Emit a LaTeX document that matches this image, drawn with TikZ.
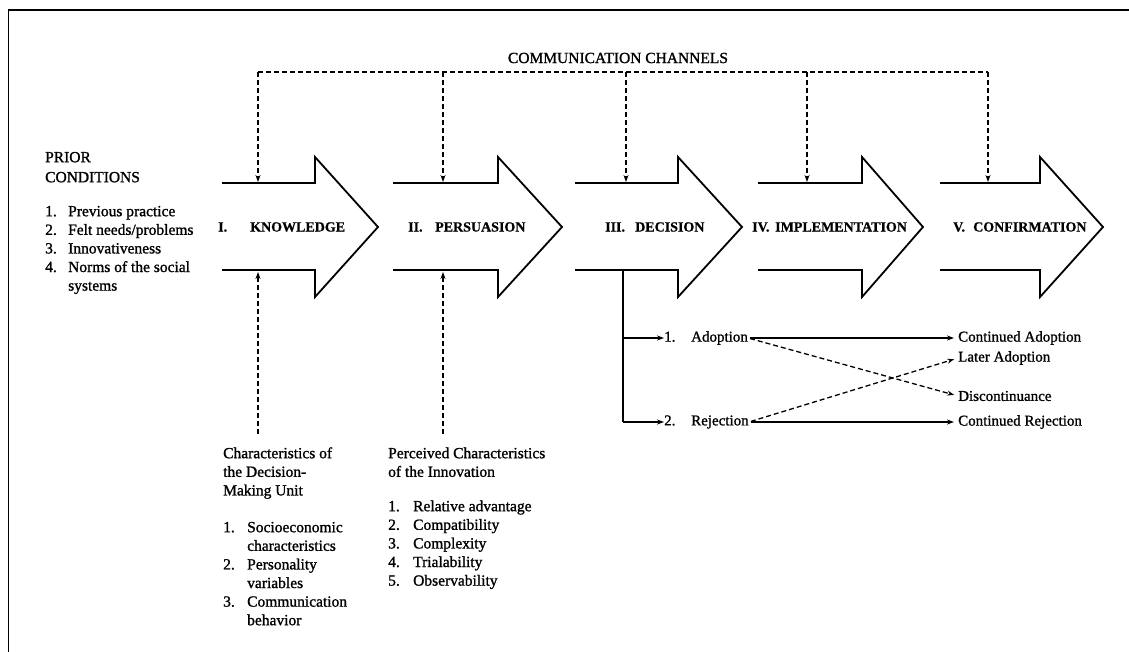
\documentclass[tikz,border=0pt]{standalone}
\usepackage{fontspec}
\setmainfont{Liberation Serif}
\newfontfamily\scanfont{Liberation Serif}[FakeBold=1.2]
\newfontfamily\scanbold{Liberation Serif Bold}[FakeBold=0.6]
\usetikzlibrary{arrows.meta}
\begin{document}
\begin{tikzpicture}[x=1pt,y=-1pt,
  phase/.style={line width=1.8pt, line join=miter},
  chan/.style={line width=1.3pt, dash pattern=on 5pt off 3pt},
  solidline/.style={line width=1.3pt},
  tipped/.style={-{Stealth[length=7pt,width=5pt]}},
  txt/.style={inner sep=0pt, font=\scanfont\fontsize{15.5}{18.6}\selectfont},
  lbl/.style={inner sep=0pt, anchor=west, font=\scanbold\fontsize{14}{17}\selectfont},
  outcome/.style={inner sep=0pt, anchor=west, font=\scanfont\fontsize{15}{18}\selectfont},
]
\useasboundingbox (0,0) rectangle (1129,652);
\draw[line width=1.5pt] (1129,10) -- (8.5,10) -- (8.5,652);

% phase arrows
\foreach \l/\n/\t in {222/315/378, 393/498/562, 575/678/742, 758/862/923, 940/1040/1103} {
  \draw[phase] (\l,183) -- (\n,183) -- (\n,157) -- (\t,227) -- (\n,297) -- (\n,270) -- (\l,270);
}
\node[lbl] (know) at (218,227) {\makebox[32pt][l]{I.}KNOWLEDGE};
\node[lbl] (pers) at (408,227) {\makebox[27pt][l]{II.}PERSUASION};
\node[lbl] (deci) at (605,227) {\makebox[30pt][l]{III.}DECISION};
\node[lbl] (impl) at (752,227) {\makebox[23pt][l]{IV.}IMPLEMENTATION};
\node[lbl] (conf) at (953,227) {\makebox[20pt][l]{V.}CONFIRMATION};

% communication channels
\node[txt] (cch) at (618,58) {COMMUNICATION CHANNELS};
\coordinate (c1) at (258,72);
\coordinate (c2) at (443,72);
\coordinate (c3) at (626,72);
\coordinate (c4) at (807,72);
\coordinate (c5) at (988,72);
\coordinate (t1) at (258,182);
\coordinate (t2) at (443,182);
\coordinate (t3) at (626,182);
\coordinate (t4) at (807,182);
\coordinate (t5) at (988,182);
\draw[chan] (c1) -- (c5);
\foreach \i in {1,...,5} { \draw[chan,tipped] (c\i) -- (t\i); }

% prior conditions
\node[txt, anchor=north west] (prior) at (45,149) {\begin{tabular}{@{}l@{}}PRIOR\\[1.4pt] CONDITIONS\end{tabular}};
\node[txt, anchor=north west] (priorlist) at (45,203) {\begin{tabular}{@{}p{23pt}@{}l@{}}
1. & Previous practice\\
2. & Felt needs/problems\\
3. & Innovativeness\\
4. & Norms of the social\\
   & systems
\end{tabular}};

% bottom influences
\coordinate (u1) at (258,434);
\coordinate (u2) at (443,434);
\coordinate (v1) at (258,272);
\coordinate (v2) at (443,272);
\draw[chan,tipped] (u1) -- (v1);
\draw[chan,tipped] (u2) -- (v2);

\node[txt, anchor=north west] (dmu) at (223,445) {\begin{tabular}{@{}l@{}}Characteristics of\\ the Decision-\\ Making Unit\end{tabular}};
\node[txt, anchor=north west] (dmulist) at (223,519) {\begin{tabular}{@{}p{24pt}@{}l@{}}
1. & Socioeconomic\\
   & characteristics\\
2. & Personality\\
   & variables\\
3. & Communication\\
   & behavior
\end{tabular}};

\node[txt, anchor=north west] (pci) at (388,445) {\begin{tabular}{@{}l@{}}Perceived Characteristics\\ of the Innovation\end{tabular}};
\node[txt, anchor=north west] (pcilist) at (388,498) {\begin{tabular}{@{}p{25pt}@{}l@{}}
1. & Relative advantage\\
2. & Compatibility\\
3. & Complexity\\
4. & Trialability\\
5. & Observability
\end{tabular}};

% decision outcomes
\node[outcome] (adopt) at (664,338) {\makebox[27pt][l]{1.}Adoption};
\node[outcome] (reject) at (664,422) {\makebox[27pt][l]{2.}Rejection};
\node[outcome] (cadopt) at (958,338) {Continued Adoption};
\node[outcome] (later) at (958,358) {Later Adoption};
\node[outcome] (disc) at (958,396) {Discontinuance};
\node[outcome] (crej) at (958,422) {Continued Rejection};

\coordinate (dtop) at (623,271);
\coordinate (dmid) at (623,338);
\coordinate (dbot) at (623,422);
\draw[solidline] (dtop) -- (dbot);
\draw[solidline,tipped] (dmid) -- (adopt.west);
\draw[solidline,tipped] (dbot) -- (reject.west);

\draw[solidline,tipped,shorten <=2pt,shorten >=4pt] (adopt.east) -- (cadopt.west);
\draw[chan,tipped,shorten <=2pt,shorten >=4pt] (adopt.east) -- (disc.west);
\draw[chan,tipped,shorten <=2pt,shorten >=4pt] (reject.east) -- (later.west);
\draw[solidline,tipped,shorten <=2pt,shorten >=4pt] (reject.east) -- (crej.west);
\end{tikzpicture}
\end{document}
